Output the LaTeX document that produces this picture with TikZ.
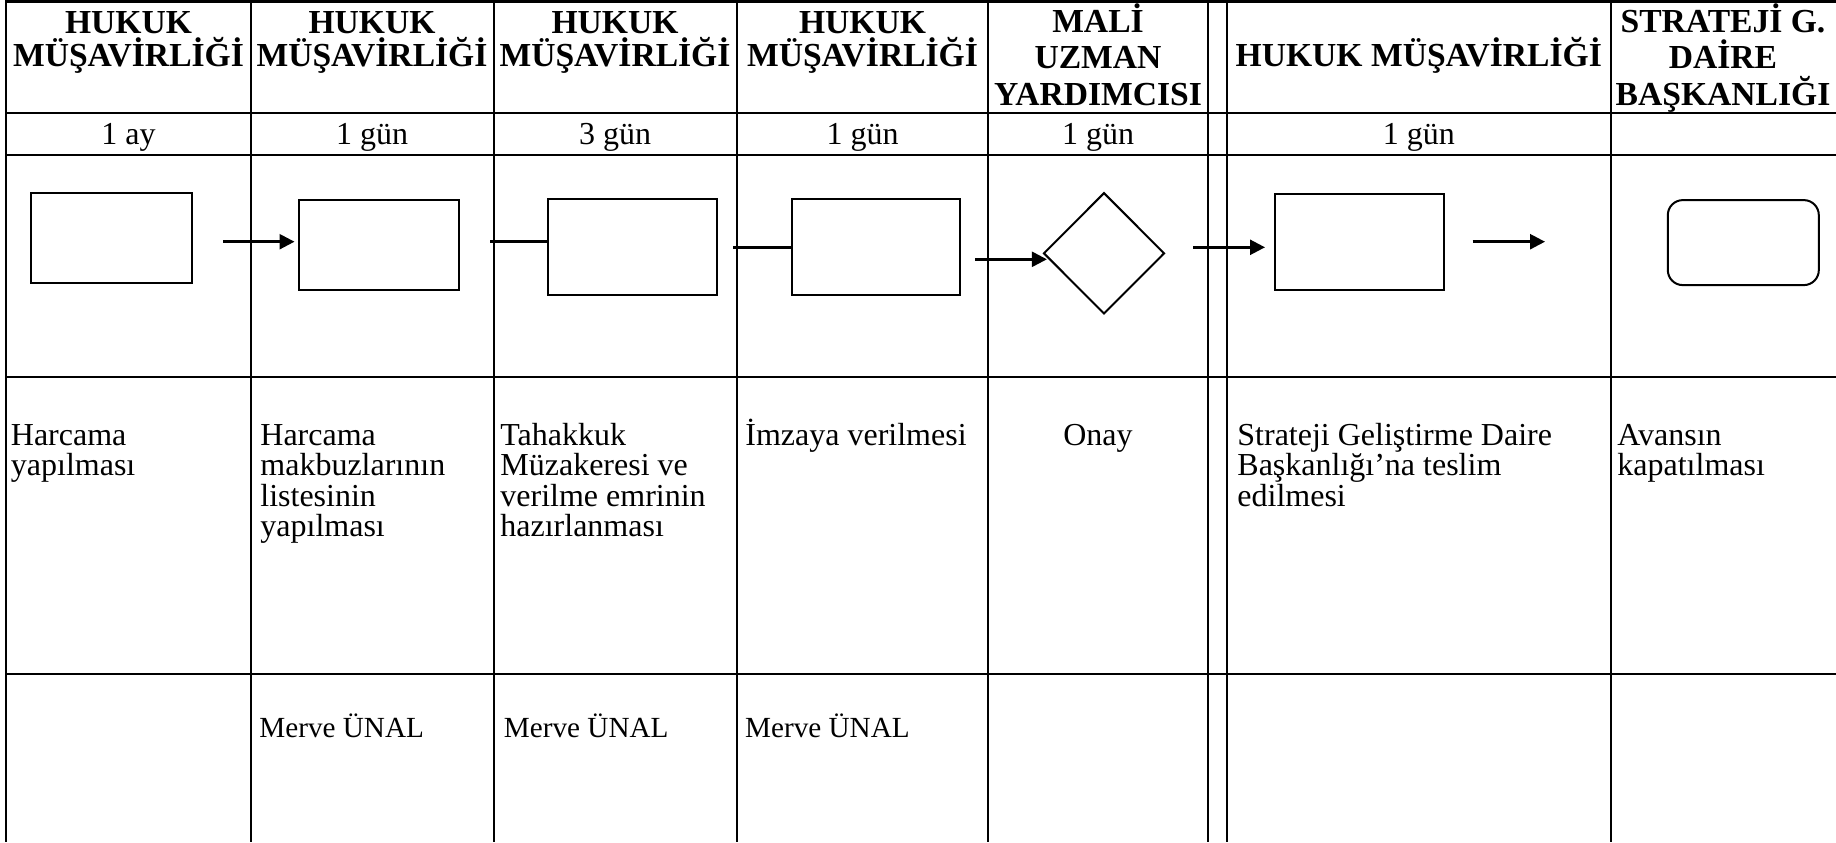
\documentclass[tikz,border=0pt]{standalone}
\usepackage{fontspec}
\setmainfont{Liberation Serif}
\usetikzlibrary{arrows.meta,shapes.geometric,calc}

% multi-line cell texts, anchored at the baseline of their first line;
% first argument is the line pitch
\newcommand\ctext[3]{\parbox[t]{#2}{\centering\lineskiplimit=-\maxdimen\baselineskip=#1\relax #3}}
\newcommand\ltext[3]{\parbox[t]{#2}{\raggedright\lineskiplimit=-\maxdimen\baselineskip=#1\relax #3}}

\begin{document}
\begin{tikzpicture}[x=0.5pt,y=-0.5pt,
  rule/.style={line width=1pt},
  toprule/.style={line width=1.5pt},
  procbox/.style={draw, line width=1pt, rectangle, inner sep=0pt},
  endbox/.style={procbox, rounded corners=7.5pt},
  decision/.style={draw, line width=1pt, diamond, inner sep=0pt},
  flow/.style={line width=1.25pt},
  flowarrow/.style={flow, -{Triangle[length=7.5pt,width=7.5pt]}},
  head/.style={anchor=base, inner sep=0pt, font=\bfseries\fontsize{16.8}{17}\selectfont},
  dur/.style={anchor=base, inner sep=0pt, font=\fontsize{16}{15.25}\selectfont},
  desc/.style={anchor=base west, inner sep=0pt, font=\fontsize{16}{15.25}\selectfont},
  descc/.style={anchor=base, inner sep=0pt, font=\fontsize{16}{15.25}\selectfont},
  who/.style={anchor=base west, inner sep=0pt, font=\fontsize{14.6}{15}\selectfont}]
\useasboundingbox (0,0) rectangle (1836,842);

% table grid
\draw[toprule] (5,1.5) -- (1836,1.5);
\draw[rule] (6.3,0) -- (6.3,842);
\foreach \cx in {250.7,493.5,737,988,1208,1227,1610.5}
  \draw[rule] (\cx,0) -- (\cx,842);
\foreach \ry in {112.5,155,377}
  \draw[rule] (6.3,\ry) -- (1836,\ry);
\draw[line width=1.25pt] (6.3,674) -- (1836,674);

% header row
\node[head] (h1) at (128.5,33.7) {\ctext{16.4pt}{130pt}{HUKUK\\MÜŞAVİRLİĞİ}};
\node[head] (h2) at (372,33.7) {\ctext{16.4pt}{130pt}{HUKUK\\MÜŞAVİRLİĞİ}};
\node[head] (h3) at (615,33.7) {\ctext{16.4pt}{130pt}{HUKUK\\MÜŞAVİRLİĞİ}};
\node[head] (h4) at (862.5,33.7) {\ctext{16.4pt}{130pt}{HUKUK\\MÜŞAVİRLİĞİ}};
\node[head] (h5) at (1098,32) {\ctext{18.4pt}{130pt}{MALİ\\UZMAN\\YARDIMCISI}};
\node[head] (h6) at (1418.8,66.5) {\ctext{17pt}{200pt}{HUKUK MÜŞAVİRLİĞİ}};
\node[head] (h7) at (1723,32) {\ctext{18.4pt}{130pt}{STRATEJİ G.\\DAİRE\\BAŞKANLIĞI}};

% durations
\node[dur] (t1) at (128.5,144) {1 ay};
\node[dur] (t2) at (372,144) {1 gün};
\node[dur] (t3) at (615,144) {3 gün};
\node[dur] (t4) at (862.5,144) {1 gün};
\node[dur] (t5) at (1098,144) {1 gün};
\node[dur] (t6) at (1418.8,144) {1 gün};

% process shapes
\node[procbox, minimum width=80.5pt, minimum height=45.3pt] (s1) at (111.5,238) {};
\node[procbox, minimum width=80pt, minimum height=45pt] (s2) at (379,245) {};
\node[procbox, minimum width=84.5pt, minimum height=48pt] (s3) at (632.5,247) {};
\node[procbox, minimum width=84pt, minimum height=48pt] (s4) at (876,247) {};
\node[decision, minimum width=60.5pt, minimum height=60.6pt] (d5) at (1104,253.3) {};
\node[procbox, minimum width=84.5pt, minimum height=48.3pt] (s6) at (1359.5,242) {};
\node[endbox, minimum width=75.5pt, minimum height=42.5pt] (s7) at (1743.3,242.6) {};

% connectors
\coordinate (a1) at (223.4,241.7);
\draw[flowarrow, shorten >=1.75pt] (a1) -- (a1 -| s2.west);
\coordinate (a2) at (490.3,241.7);
\draw[flow] (a2) -- (a2 -| s3.west);
\coordinate (a3) at (733,247.3);
\draw[flow] (a3) -- (a3 -| s4.west);
\coordinate (a4) at (975,259.3);
\draw[flowarrow, shorten >=-2.2pt] (a4) -- (a4 -| d5.west);
\coordinate (a5) at (1193,247.3);
\draw[flowarrow, shorten >=4.5pt] (a5) -- (a5 -| s6.west);
\coordinate (a6s) at (1472.6,241.7);
\coordinate (a6e) at (1545,241.7);
\draw[flowarrow] (a6s) -- (a6e);

% step descriptions
\node[desc] (x1) at (10.5,445) {\ltext{15.25pt}{200pt}{Harcama\\yapılması}};
\node[desc] (x2) at (260,445) {\ltext{15.25pt}{200pt}{Harcama\\makbuzlarının\\listesinin\\yapılması}};
\node[desc] (x3) at (500,445) {\ltext{15.25pt}{200pt}{Tahakkuk\\Müzakeresi ve\\verilme emrinin\\hazırlanması}};
\node[desc] (x4) at (745,445) {İmzaya verilmesi};
\node[descc] (x5) at (1098,445) {Onay};
\node[desc] (x6) at (1237,445) {\ltext{15.25pt}{250pt}{Strateji Geliştirme Daire\\Başkanlığı’na teslim\\edilmesi}};
\node[desc] (x7) at (1617,445) {\ltext{15.25pt}{200pt}{Avansın\\kapatılması}};

% responsible staff
\node[who] (p2) at (259,737) {Merve ÜNAL};
\node[who] (p3) at (503.5,737) {Merve ÜNAL};
\node[who] (p4) at (744.7,737) {Merve ÜNAL};
\end{tikzpicture}
\end{document}
